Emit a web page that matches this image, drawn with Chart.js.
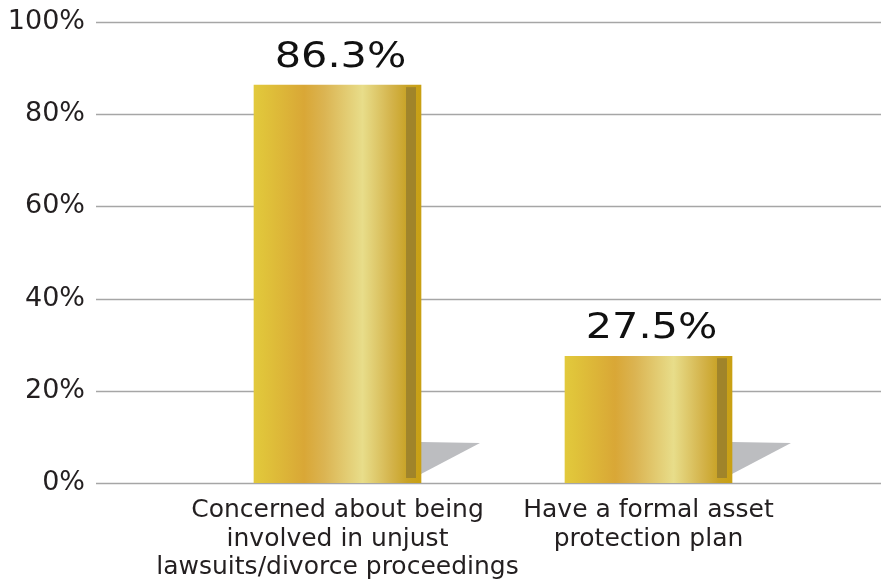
<!DOCTYPE html>
<html>
<head>
<meta charset="utf-8">
<script src="https://cdn.jsdelivr.net/npm/chart.js@4.4.0/dist/chart.umd.min.js"></script>
<style>
  body { margin: 0; background: #fff; }
  #wrap { width: 881px; height: 583px; }
</style>
</head>
<body>
<div id="wrap"><canvas id="chart_canvas" width="881" height="583"></canvas></div>
<script>
// data
const categories = [
    ["Concerned about being", "involved in unjust", "lawsuits/divorce proceedings"],
    ["Have a formal asset", "protection plan"]
];
const values = [86.3, 27.5];
const yTicks = [0, 20, 40, 60, 80, 100];

const textColor = '#231f20';
const fontFamily = "'DejaVu Sans', sans-serif";

function barGradient(context) {
    const chart = context.chart;
    const xs = chart.scales.x;
    if (!xs || !chart.chartArea) return '#dcb440';
    const cx = xs.getPixelForValue(context.dataIndex);
    const half = 167 / 2;
    const g = chart.ctx.createLinearGradient(cx - half, 0, cx + half, 0);
    g.addColorStop(0, '#e2c93c');
    g.addColorStop(0.06, '#e0c33a');
    g.addColorStop(0.30, '#d9a736');
    g.addColorStop(0.42, '#dbb452');
    g.addColorStop(0.65, '#e8dd8a');
    g.addColorStop(0.82, '#d4b44c');
    g.addColorStop(0.92, '#c8a225');
    g.addColorStop(1, '#c9a012');
    return g;
}

// grid lines run wider than the plot area
const gridLines = {
    id: 'gridLines',
    beforeDatasetsDraw(chart) {
        const { ctx, scales: { y } } = chart;
        ctx.save();
        ctx.strokeStyle = '#a6a6a6';
        ctx.lineWidth = 1.5;
        yTicks.forEach(t => {
            const py = Math.round(y.getPixelForValue(t)) + 0.5;
            ctx.beginPath();
            ctx.moveTo(96, py);
            ctx.lineTo(chart.width, py);
            ctx.stroke();
        });
        // shadows behind the bars
        const meta = chart.getDatasetMeta(0);
        ctx.fillStyle = '#bcbdc0';
        meta.data.forEach(bar => {
            const right = bar.x + bar.width / 2;
            const base = bar.base;
            ctx.beginPath();
            ctx.moveTo(right, base - 41);
            ctx.lineTo(right + 59, base - 40);
            ctx.lineTo(right, base - 9);
            ctx.closePath();
            ctx.fill();
        });
        ctx.restore();
    }
};

const barDecor = {
    id: 'barDecor',
    afterDatasetsDraw(chart) {
        const { ctx } = chart;
        const meta = chart.getDatasetMeta(0);
        ctx.save();
        meta.data.forEach((bar, i) => {
            const right = bar.x + bar.width / 2;
            // dark stripe near the right edge
            ctx.fillStyle = 'rgba(150, 125, 45, 0.8)';
            ctx.fillRect(right - 15, bar.y + 2, 10, bar.base - bar.y - 7);
            // value label, a little stretched like the original face
            ctx.save();
            ctx.translate(bar.x + 3, bar.y - 18);
            ctx.scale(1.15, 1);
            ctx.fillStyle = '#111';
            ctx.font = '36px ' + fontFamily;
            ctx.textAlign = 'center';
            ctx.textBaseline = 'alphabetic';
            ctx.fillText(values[i].toFixed(1) + '%', 0, 0);
            ctx.restore();
        });
        ctx.restore();
    }
};

const canva = document.getElementById('chart_canvas');
const myChart = new Chart(canva, {
    type: 'bar',
    data: {
        labels: categories,
        datasets: [{
            data: values,
            backgroundColor: barGradient,
            borderWidth: 0,
            barThickness: 167
        }]
    },
    options: {
        responsive: false,
        animation: false,
        layout: {
            padding: { top: 22, right: 77, left: 0, bottom: 0 }
        },
        scales: {
            x: {
                grid: { display: false, drawTicks: false },
                border: { display: false },
                ticks: {
                    color: textColor,
                    font: { family: fontFamily, size: 25, lineHeight: 1.15 },
                    padding: 13,
                    maxRotation: 0,
                    autoSkip: false
                },
                afterFit(s) { s.height = 100; s.paddingLeft = 0; s.paddingRight = 0; }
            },
            y: {
                min: 0,
                max: 100,
                grid: { display: false, drawTicks: false },
                border: { display: false },
                afterBuildTicks(s) { s.ticks = yTicks.map(v => ({ value: v })); },
                ticks: {
                    color: textColor,
                    font: { family: fontFamily, size: 27 },
                    padding: 97,
                    callback: v => v + '%'
                },
                afterFit(s) { s.width = 182; s.paddingTop = 0; s.paddingBottom = 0; }
            }
        },
        plugins: {
            legend: { display: false },
            tooltip: { enabled: false }
        }
    },
    plugins: [gridLines, barDecor]
});
</script>
</body>
</html>
